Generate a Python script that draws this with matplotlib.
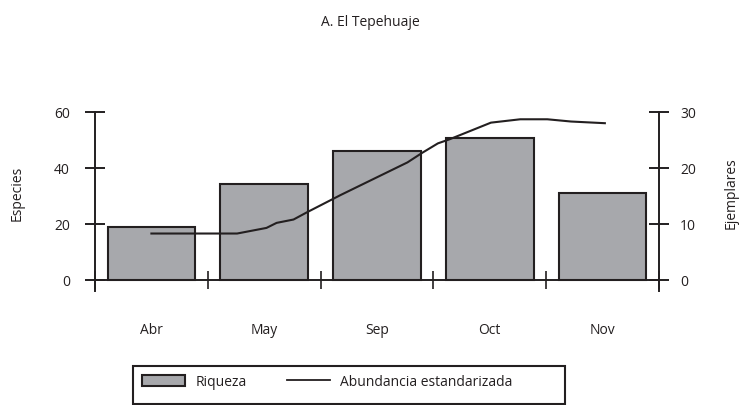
import matplotlib
matplotlib.use("Agg")
import matplotlib.pyplot as plt
from matplotlib.patches import Patch, Rectangle
from matplotlib.lines import Line2D

# ---- data ----
categories = ["Abr", "May", "Sep", "Oct", "Nov"]
riqueza = [19.0, 34.3, 46.0, 50.8, 31.0]
# abundance line, traced along the category axis (position in category units)
abund_pos = [0.0, 0.76, 1.02, 1.11, 1.26, 1.38, 1.68, 2.27, 2.40, 2.54, 2.64, 3.01, 3.27, 3.51, 3.72, 4.02]
abund_val = [8.3, 8.3, 9.3, 10.2, 10.8, 12.1, 15.2, 21.0, 22.7, 24.4, 25.1, 28.1, 28.7, 28.7, 28.3, 28.0]
left_ticks = [0, 20, 40, 60]
right_ticks = [0, 10, 20, 30]

title = "A. El Tepehuaje"
ylabel_left = "Especies"
ylabel_right = "Ejemplares"
legend_labels = ["Riqueza", "Abundancia estandarizada"]

# ---- style ----
plt.rcParams['font.family'] = ['Open Sans', 'DejaVu Sans']
ink = "#231f20"
bar_fill = "#a7a8ac"
fs = 10
W, H = 740, 405
fig = plt.figure(figsize=(W / 100, H / 100), dpi=100)

ax_left, ax_right_px = 95, 659
ax_top, ax_bot = 112, 290.5
ax = fig.add_axes([ax_left / W, 1 - ax_bot / H, (ax_right_px - ax_left) / W, (ax_bot - ax_top) / H])
ymin_l = -60 * (ax_bot - 280) / (280 - ax_top)
ax.set_ylim(ymin_l, 60)
ax.set_xlim(-0.5, len(categories) - 0.5)

x = list(range(len(categories)))
ax.bar(x, riqueza, width=0.775, color=bar_fill, edgecolor=ink, linewidth=1.5, zorder=2)

for s in ["top", "right"]:
    ax.spines[s].set_visible(False)
ax.spines["bottom"].set_position(("data", 0))
for s in ["left", "bottom"]:
    ax.spines[s].set_color(ink)
    ax.spines[s].set_linewidth(1.4)

ax.set_yticks(left_ticks)
ax.set_yticklabels([str(t) for t in left_ticks])
ax.tick_params(axis="y", direction="inout", length=14, width=1.4, color=ink,
               labelsize=fs, labelcolor=ink, pad=11)
ax.set_xticks([i - 0.5 for i in range(len(categories) + 1)])
ax.set_xticklabels([""] * (len(categories) + 1))
ax.set_xticks(x, minor=True)
ax.set_xticklabels(categories, minor=True)
ax.tick_params(axis="x", which="major", direction="inout", length=13, width=1.2, color=ink)
ax.tick_params(axis="x", which="minor", length=0, labelsize=fs, labelcolor=ink, pad=31)
ax.set_ylabel(ylabel_left, fontsize=fs, color=ink)
ax.yaxis.set_label_coords(-(95 - 25) / (ax_right_px - ax_left), (ax_bot - 193) / (ax_bot - ax_top))

ax2 = ax.twinx()
ax2.set_ylim(ymin_l / 2, 30)
ax2.plot(abund_pos, abund_val, color=ink, linewidth=1.5, zorder=3)
for s in ["top", "bottom", "left"]:
    ax2.spines[s].set_visible(False)
ax2.spines["right"].set_color(ink)
ax2.spines["right"].set_linewidth(1.4)
ax2.set_yticks(right_ticks)
ax2.set_yticklabels([str(t) for t in right_ticks])
ax2.tick_params(axis="y", direction="inout", length=14.4, width=1.4, color=ink,
                labelsize=fs, labelcolor=ink, pad=8)
ax2.set_ylabel(ylabel_right, fontsize=fs, color=ink)
ax2.yaxis.set_label_coords(1 + (724 - ax_right_px) / (ax_right_px - ax_left), (ax_bot - 193) / (ax_bot - ax_top))

fig.text(370 / W, 1 - 22 / H, title, ha="center", va="center", fontsize=fs, color=ink)

# legend: entries placed like the reference, box drawn as a frame
handles = [Patch(facecolor=bar_fill, edgecolor=ink, linewidth=1.5),
           Line2D([0], [0], color=ink, linewidth=1.3)]
leg = fig.legend(handles, legend_labels, ncol=2, loc="center left",
                 bbox_to_anchor=(142 / W, 1 - 382 / H), borderaxespad=0, borderpad=0,
                 frameon=False, fontsize=fs, handlelength=3.1, handleheight=0.85,
                 handletextpad=0.75, columnspacing=2.9, labelcolor=ink)
leg_x0, leg_x1, leg_top, leg_bot = 133, 565, 366, 403.5
fig.patches.append(Rectangle((leg_x0 / W, 1 - leg_bot / H), (leg_x1 - leg_x0) / W,
                             (leg_bot - leg_top) / H, transform=fig.transFigure,
                             fill=False, edgecolor=ink, linewidth=1.5))

fig.savefig("out.png", dpi=100)
